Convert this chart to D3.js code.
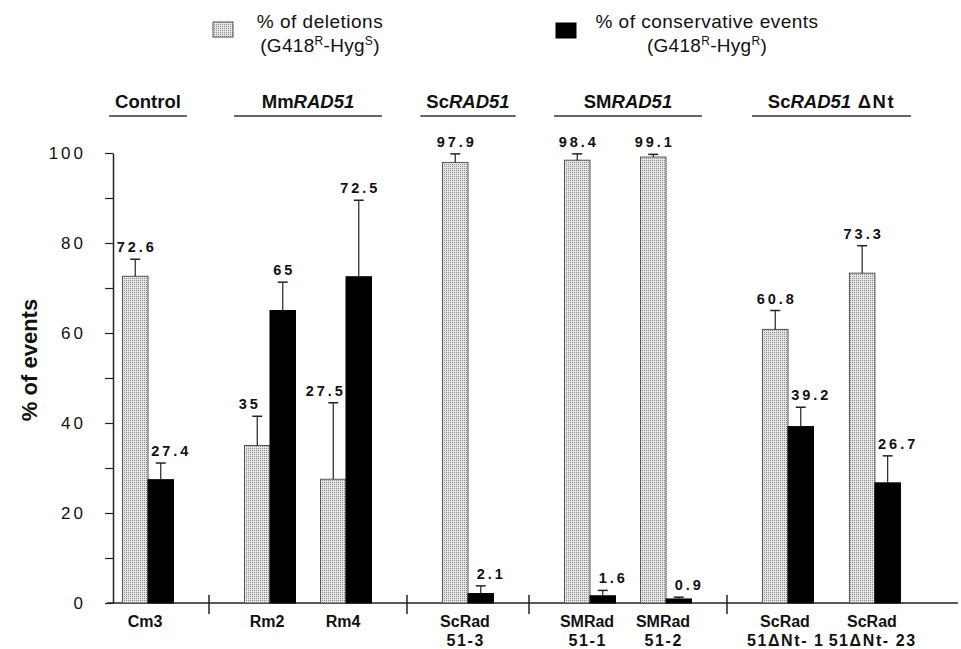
<!DOCTYPE html>
<html><head><meta charset="utf-8">
<script src="https://cdn.jsdelivr.net/npm/d3@7"></script>
<style>
body{margin:0;background:#fff}
text{font-family:"Liberation Sans",Arial,Helvetica,sans-serif;fill:#111}
</style>
</head><body><svg id="chart" width="961" height="649"></svg>
<script>
// ---------- data ----------
const groupPrefix = ["Control", "Mm", "Sc", "SM", "Sc"];
const groupItalic = ["", "RAD51", "RAD51", "RAD51", "RAD51"];
const groupSuffix = ["", "", "", "", " \u0394Nt"];
const categoryLine1 = ["Cm3", "Rm2", "Rm4", "ScRad", "SMRad", "SMRad", "ScRad", "ScRad"];
const categoryLine2 = ["", "", "", "51-3", "51-1", "51-2", "51\u0394Nt- 1", "51\u0394Nt- 23"];
const categoryGroup = [0, 1, 1, 2, 3, 3, 4, 4];
const deletions = [72.6, 35, 27.5, 97.9, 98.4, 99.1, 60.8, 73.3];
const deletionsErr = [3.8, 6.5, 17, 1.9, 1.4, 0.6, 4.2, 6.1];
const conservative = [27.4, 65, 72.5, 2.1, 1.6, 0.9, 39.2, 26.7];
const conservativeErr = [3.7, 6.3, 17, 1.7, 1.2, 0.4, 4.3, 6.0];
const yTicks = [0, 20, 40, 60, 80, 100];
const yMinorTicks = [10, 30, 50, 70, 90];
const yTitle = "% of events";
const seriesNames = ["% of deletions", "% of conservative events"];
const seriesSub = [["(G418", "R", "-Hyg", "S", ")"], ["(G418", "R", "-Hyg", "R", ")"]];

// ---------- layout ----------
const svg = d3.select("#chart");
const axisX = 113, yBase = 603, yTopPx = 153;
const y = d3.scaleLinear().domain([0, 100]).range([yBase, yTopPx]);

// measure category label widths to space members inside a group
const line1Style = s => s.style("font-size", "16px").style("font-weight", "bold");
const line2Style = s => s.style("font-size", "16px").style("font-weight", "bold").style("letter-spacing", "1.6px");
const probe = svg.append("g").attr("opacity", 0);
const labelW = categoryLine1.map((c, i) => {
  const a = probe.append("text").call(line1Style).text(c).node().getComputedTextLength();
  const b = probe.append("text").call(line2Style).text(categoryLine2[i]).node().getComputedTextLength();
  return Math.max(a, b);
});
probe.remove();

const lead = 35, half = 61, minWithin = 76;
const slot = [], dividers = [];
let cur = lead;
categoryLine1.forEach((c, i) => {
  if (i > 0) {
    if (categoryGroup[i] !== categoryGroup[i - 1]) { cur += half; dividers.push(cur); cur += half; }
    else cur += Math.max(minWithin, (labelW[i - 1] + labelW[i]) / 2 + 4);
  }
  slot.push(cur);
});
const x = d3.scaleLinear().domain([0, 1]).range([axisX, axisX + 1]);
const barW = 25.5;

// stipple pattern
const defs = svg.append("defs");
const pat = defs.append("pattern").attr("id", "stip").attr("patternUnits", "userSpaceOnUse")
  .attr("width", 2).attr("height", 2);
pat.append("rect").attr("width", 2).attr("height", 2).attr("fill", "#e4e4e4");
pat.append("rect").attr("width", 1).attr("height", 1).attr("fill", "#8c8c8c");

// ---------- legend ----------
const legendPos = [{sx: 213, sy: 22, tx: 320}, {sx: 556, sy: 23, tx: 707}];
seriesNames.forEach((name, i) => {
  const L = legendPos[i];
  svg.append("rect").attr("x", L.sx).attr("y", L.sy).attr("width", 20).attr("height", 15)
    .attr("fill", i === 0 ? "url(#stip)" : "#000").attr("stroke", i === 0 ? "#555" : "#000").attr("stroke-width", 1);
  svg.append("text").attr("x", L.tx).attr("y", 28).attr("text-anchor", "middle")
    .style("font-size", "19px").style("letter-spacing", "0.5px").text(name);
  const t = svg.append("text").attr("x", L.tx).attr("y", 52).attr("text-anchor", "middle")
    .style("font-size", "19px").style("letter-spacing", "0.3px");
  seriesSub[i].forEach((s, k) => {
    const sup = k % 2 === 1;
    t.append("tspan").attr("dy", sup ? -7 : (k > 0 ? 7 : 0))
      .style("font-size", sup ? "12px" : "19px").text(s);
  });
});

// ---------- group headers ----------
d3.range(groupPrefix.length).forEach(g => {
  const members = slot.filter((s, i) => categoryGroup[i] === g);
  const cx = x(d3.mean(members));
  const span = x(d3.max(members)) - x(d3.min(members));
  const t = svg.append("text").attr("x", cx).attr("y", 108).attr("text-anchor", "middle")
    .style("font-size", "18.5px").style("font-weight", "bold");
  t.append("tspan").text(groupPrefix[g]);
  if (groupItalic[g]) t.append("tspan").style("font-style", "italic").text(groupItalic[g]);
  if (groupSuffix[g]) t.append("tspan").style("letter-spacing", "1.5px").text(groupSuffix[g]);
  const tw = t.node().getComputedTextLength();
  const hw = Math.max(tw / 2 + 6, span / 2 + 36);
  svg.append("line").attr("x1", cx - hw).attr("x2", cx + hw).attr("y1", 116).attr("y2", 116)
    .attr("stroke", "#333").attr("stroke-width", 1.5);
});

// ---------- y axis ----------
const yAxis = svg.append("g").attr("transform", `translate(${axisX},0)`)
  .call(d3.axisLeft(y).tickValues(yTicks).tickSize(8).tickSizeOuter(0).tickPadding(19));
yAxis.select(".domain").attr("stroke", "#222").attr("stroke-width", 1.5);
yAxis.selectAll(".tick line").attr("stroke", "#222").attr("stroke-width", 1.2);
yAxis.selectAll(".tick text").style("font-size", "17px").style("letter-spacing", "3px")
  .style("font-family", "'Liberation Sans',Arial,sans-serif").attr("fill", "#111");
const yMinor = svg.append("g").attr("transform", `translate(${axisX},0)`)
  .call(d3.axisLeft(y).tickValues(yMinorTicks).tickSize(8).tickFormat(""));
yMinor.select(".domain").remove();
yMinor.selectAll(".tick line").attr("stroke", "#222").attr("stroke-width", 1.2);

svg.append("text").attr("transform", `translate(37,360) rotate(-90)`).attr("text-anchor", "middle")
  .style("font-size", "22px").style("font-weight", "bold").text(yTitle);

// ---------- x axis ----------
svg.append("line").attr("x1", axisX - 6).attr("x2", 958).attr("y1", yBase).attr("y2", yBase)
  .attr("stroke", "#222").attr("stroke-width", 1.5);
svg.selectAll(".divider").data(dividers).join("line").attr("class", "divider")
  .attr("x1", d => x(d)).attr("x2", d => x(d)).attr("y1", yBase - 8).attr("y2", yBase + 11)
  .attr("stroke", "#222").attr("stroke-width", 1.5);

// ---------- bars ----------
const bars = svg.append("g");
const series = [
  {vals: deletions, errs: deletionsErr, fill: "url(#stip)", stroke: "#555", off: -1},
  {vals: conservative, errs: conservativeErr, fill: "#000", stroke: "#000", off: 0}
];
series.forEach((s, si) => {
  const other = series[1 - si].vals;
  s.vals.forEach((v, i) => {
    const bx = x(slot[i]) + s.off * barW;
    const cxm = bx + barW / 2;
    bars.append("rect").attr("x", bx).attr("y", y(v)).attr("width", barW).attr("height", y(0) - y(v))
      .attr("fill", s.fill).attr("stroke", s.stroke).attr("stroke-width", 1);
    const top = y(v + s.errs[i]);
    bars.append("line").attr("x1", cxm).attr("x2", cxm).attr("y1", y(v)).attr("y2", top)
      .attr("stroke", "#222").attr("stroke-width", 1.2);
    bars.append("line").attr("x1", cxm - 5).attr("x2", cxm + 5).attr("y1", top).attr("y2", top)
      .attr("stroke", "#222").attr("stroke-width", 1.5);
    const shift = v < other[i] ? (si === 0 ? -9 : 9) : 0;
    bars.append("text").attr("x", cxm + shift + 1.5).attr("y", top - 7).attr("text-anchor", "middle")
      .style("font-size", "14.5px").style("font-weight", "bold").style("letter-spacing", "3px")
      .text(String(v));
  });
});

// ---------- category labels ----------
categoryLine1.forEach((c, i) => {
  const cx = x(slot[i]) - 3;
  svg.append("text").attr("x", cx).attr("y", 627).attr("text-anchor", "middle").call(line1Style).text(c);
  if (categoryLine2[i]) svg.append("text").attr("x", cx + 0.8).attr("y", 646).attr("text-anchor", "middle")
    .call(line2Style).text(categoryLine2[i]);
});
</script></body></html>
